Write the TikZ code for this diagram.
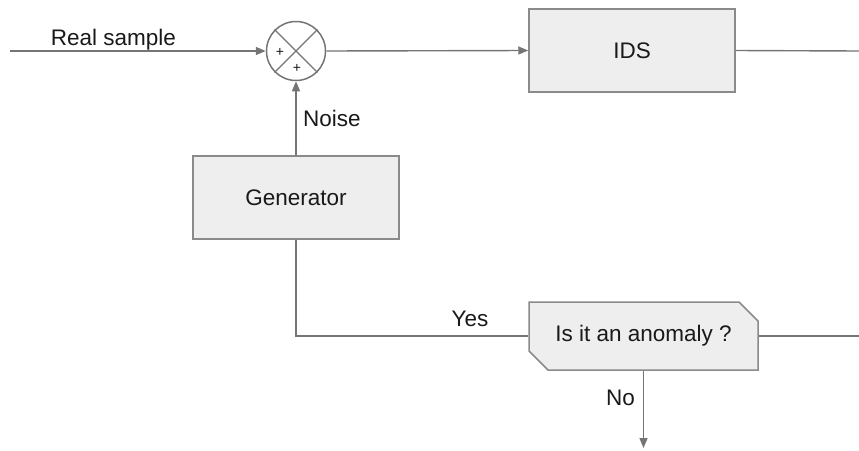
\documentclass[tikz,border=0pt]{standalone}
\usepackage{fontspec}
\setmainfont{Liberation Sans}
\usetikzlibrary{arrows.meta,shapes.misc}
\definecolor{wire}{HTML}{757575}
\definecolor{boxline}{HTML}{8A8A8A}
\definecolor{boxfill}{HTML}{EEEEEE}
\begin{document}
\begin{tikzpicture}[x=1pt,y=-1pt,
  every node/.style={font=\fontsize{22.5}{26}\selectfont, text=black!90},
  block/.style={draw=boxline, line width=1.5pt, fill=boxfill, rectangle, inner sep=0pt},
  wireline/.style={draw=wire, line width=1.4pt},
  flow/.style={wireline, -{Triangle[length=10pt,width=8pt]}},
  lbl/.style={anchor=base, inner sep=0pt}]
\useasboundingbox (0,0) rectangle (859,450);
% blocks
\node[block, minimum width=206pt, minimum height=83pt] (ids) at (632,50.5) {IDS};
\node[block, minimum width=206pt, minimum height=83pt] (gen) at (296,197.5) {Generator};
\node[block, chamfered rectangle, chamfered rectangle corners={north east, south west},
      chamfered rectangle xsep=10pt, chamfered rectangle ysep=9pt,
      minimum width=229pt, minimum height=68pt] (anom) at (643.5,336) {Is it an anomaly ?};
% summing junction
\node[draw=wire, line width=1.5pt, fill=white, circle, minimum size=59pt, inner sep=0pt] (sum) at (296,51) {};
\draw[wireline] (sum.north west) -- (sum.south east) (sum.north east) -- (sum.south west);
\node[inner sep=0pt, font=\fontsize{14}{14}\selectfont] (plusa) at (280,52) {+};
\node[inner sep=0pt, font=\fontsize{14}{14}\selectfont] (plusb) at (297,68) {+};
% free ends
\coordinate (rsin) at (10,51);
\coordinate (idsout) at (859,51);
\coordinate (anomout) at (859,336);
\coordinate (noout) at (643.5,448);
% connectors
\draw[flow] (rsin) -- (sum.west);
\draw[flow] (sum.east) -- (ids.west);
\draw[wireline] (ids.east) -- (idsout);
\draw[flow] (gen.north) -- (sum.south);
\draw[wireline] (gen.south) |- (anom.west);
\draw[wireline] (anom.east) -- (anomout);
\draw[flow] (anom.south) -- (noout);
% labels
\node[lbl] (lreal) at (113.5,45) {Real sample};
\node[lbl] (lnoise) at (332,126) {Noise};
\node[lbl] (lyes) at (470,326) {Yes};
\node[lbl] (lno) at (620.5,405) {No};
\end{tikzpicture}
\end{document}
